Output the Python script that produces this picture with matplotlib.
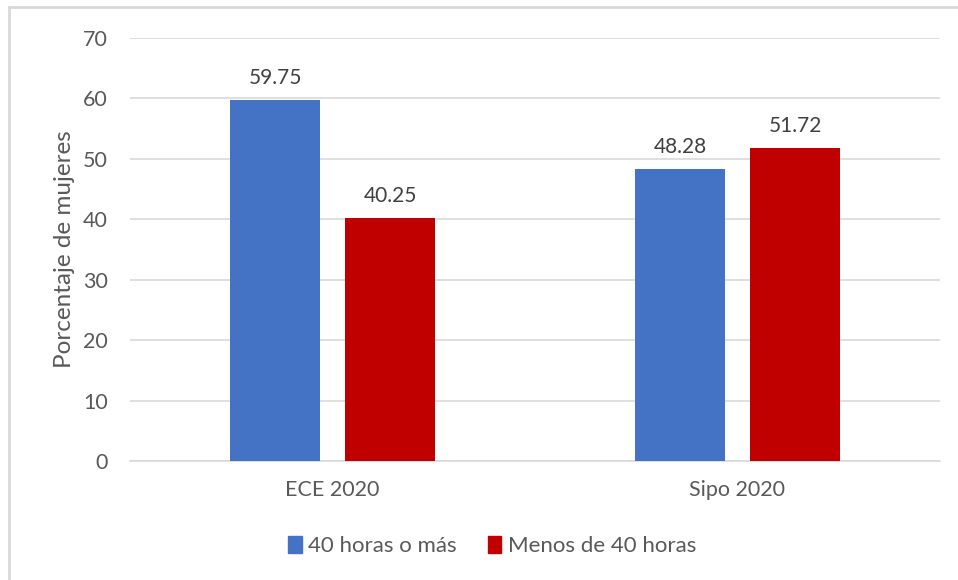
import numpy as np
import matplotlib.pyplot as plt
from matplotlib.lines import Line2D
from matplotlib.patches import Patch

plt.rcParams['font.family'] = ['Lato', 'DejaVu Sans']

# Datos
categorias = ['ECE 2020', 'Sipo 2020']
series = ['40 horas o más', 'Menos de 40 horas']
mas_40 = [59.75, 48.28]
menos_40 = [40.25, 51.72]
colores = ['#4472C4', '#C00000']
gris = '#595959'

fig = plt.figure(figsize=(9.58, 5.8), dpi=100)
ax = fig.add_axes([0.1357, 0.2052, 0.8455, 0.7293])

x = np.arange(len(categorias))
ancho = 0.222
desp = 0.142
ax.bar(x - desp, mas_40, ancho, color=colores[0], zorder=3)
ax.bar(x + desp, menos_40, ancho, color=colores[1], zorder=3)

# Etiquetas de valor
for xi, v in zip(x - desp, mas_40):
    ax.text(xi, v + 2.0, f'{v:.2f}', ha='center', va='bottom', fontsize=15, color='#404040')
for xi, v in zip(x + desp, menos_40):
    ax.text(xi, v + 2.0, f'{v:.2f}', ha='center', va='bottom', fontsize=15, color='#404040')

ax.set_xlim(-0.5, 1.5)
ax.set_ylim(0, 70)
ax.set_yticks(range(0, 71, 10))
ax.set_xticks(x)
ax.set_xticklabels(categorias)
ax.yaxis.grid(True, color='#D9D9D9', linewidth=1.2, zorder=0)
ax.set_axisbelow(True)
for s in ['top', 'right', 'left']:
    ax.spines[s].set_visible(False)
ax.spines['bottom'].set_color('#D9D9D9')
ax.spines['bottom'].set_linewidth(1.2)
ax.tick_params(axis='both', length=0, labelsize=15.5, labelcolor=gris)
ax.tick_params(axis='y', pad=16)
ax.tick_params(axis='x', pad=14)
ax.set_ylabel('Porcentaje de mujeres', fontsize=17.5, color=gris, labelpad=6)

handles = [Patch(color=c) for c in colores]
fig.legend(handles, series, loc='center', bbox_to_anchor=(0.514, 0.058), ncol=2,
           frameon=False, fontsize=16, labelcolor=gris, handlelength=0.6,
           handleheight=0.75, handletextpad=0.3, columnspacing=1.4)

# Borde del gráfico (izquierda y arriba)
fig.add_artist(Line2D([0.009, 0.009], [0, 0.988], color='#D9D9D9', linewidth=2))
fig.add_artist(Line2D([0.009, 1.0], [0.988, 0.988], color='#D9D9D9', linewidth=2))

fig.savefig('out.png', dpi=100)
